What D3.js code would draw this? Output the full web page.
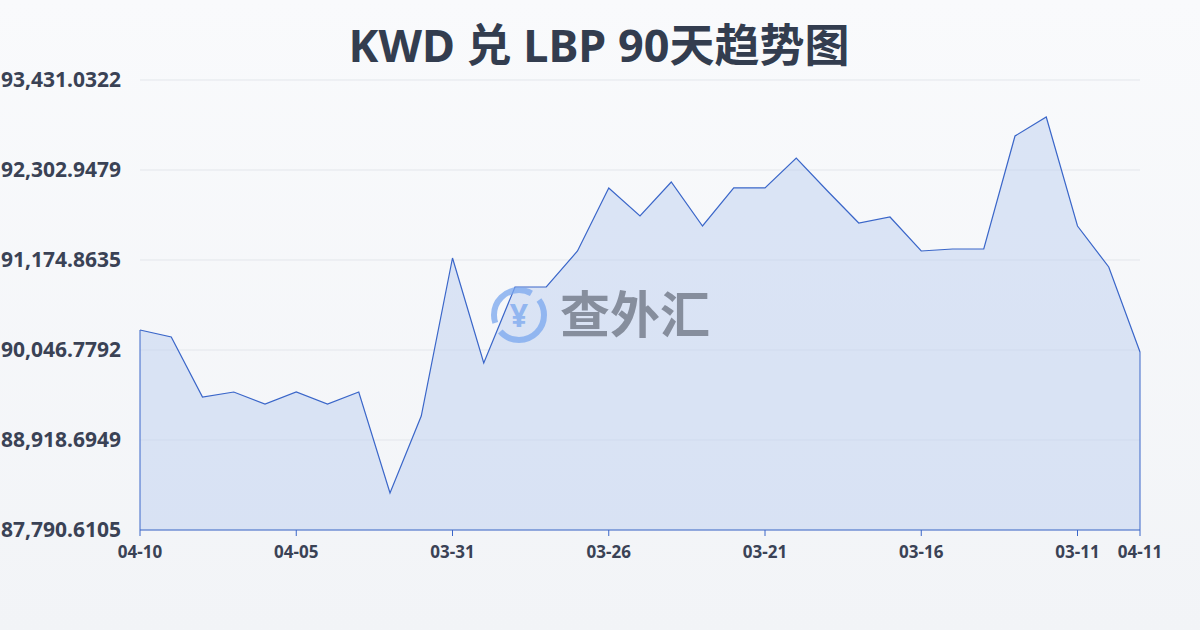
<!DOCTYPE html><html><head><meta charset="utf-8">
<script src="https://cdn.jsdelivr.net/npm/d3@7/dist/d3.min.js"></script>
<style>body{margin:0;width:1200px;height:630px;overflow:hidden;background:linear-gradient(#f9fafc,#f2f4f7);font-family:"Noto Sans","Noto Sans CJK SC",sans-serif}</style>
</head><body><svg id="c" width="1200" height="630"></svg><script>
const dates=["04-10","04-09","04-08","04-07","04-06","04-05","04-04","04-03","04-02","04-01","03-31","03-30","03-29","03-28","03-27","03-26","03-25","03-24","03-23","03-22","03-21","03-20","03-19","03-18","03-17","03-16","03-15","03-14","03-13","03-12","03-11","03-10","04-11"];
const values=[90297.4,90209.7,89457.7,89520.4,89370.0,89520.4,89370.0,89520.4,88254.5,89219.6,91200.0,89883.9,90836.5,90836.5,91287.8,92077.7,91726.4,92152.5,91601.0,92077.7,92077.7,92453.4,92040.0,91638.7,91714.0,91287.8,91312.9,91312.9,92729.1,92967.3,91601.0,91087.2,90021.8];
const yTicks=[87790.6105,88918.6949,90046.7792,91174.8635,92302.9479,93431.0322];
const xLabels=["04-10","04-05","03-31","03-26","03-21","03-16","03-11","04-11"];
const svg=d3.select("#c");
const x=d3.scalePoint().domain(dates).range([140,1140]);
const y=d3.scaleLinear().domain([yTicks[0],yTicks[5]]).range([530,80]);
svg.append("text").attr("x",599).attr("y",62).attr("text-anchor","middle").attr("font-size",45).attr("font-weight","bold").attr("fill","#333d4f").text("KWD 兑 LBP 90天趋势图");
const fmt=d3.format(",.4f");
yTicks.forEach(t=>{svg.append("line").attr("x1",140).attr("x2",1140).attr("y1",y(t)).attr("y2",y(t)).attr("stroke","#e3e6eb");
svg.append("text").attr("x",121).attr("y",y(t)+7).attr("text-anchor","end").attr("font-size",21).attr("font-weight","bold").attr("fill","#3a4255").text(fmt(t));});
const area=d3.area().x((d,i)=>x(dates[i])).y0(530).y1(d=>y(d));
svg.append("path").attr("d",area(values)).attr("fill","rgba(190,208,240,0.5)");
svg.append("path").attr("d",d3.line().x((d,i)=>x(dates[i])).y(d=>y(d))(values)).attr("fill","none").attr("stroke","#3a66c9").attr("stroke-width",1.2);
svg.append("line").attr("x1",140).attr("x2",140).attr("y1",y(values[0])).attr("y2",530).attr("stroke","#3a66c9");
svg.append("line").attr("x1",1140).attr("x2",1140).attr("y1",y(values[32])).attr("y2",530).attr("stroke","#3a66c9");
svg.append("line").attr("x1",140).attr("x2",1140).attr("y1",530).attr("y2",530).attr("stroke","#3a66c9");
xLabels.forEach(l=>{const xx=x(l);svg.append("line").attr("x1",xx).attr("x2",xx).attr("y1",530).attr("y2",536).attr("stroke","#3a66c9");
svg.append("text").attr("x",xx).attr("y",558).attr("text-anchor","middle").attr("font-size",17).attr("font-weight","bold").attr("fill","#3a4255").text(l);});
const g=svg.append("g").attr("opacity",0.75);
g.append("circle").attr("cx",519).attr("cy",315).attr("r",25).attr("fill","none").attr("stroke","#7aa7ef").attr("stroke-width",6).attr("stroke-dasharray","60 10");
g.append("text").attr("x",519).attr("y",327).attr("text-anchor","middle").attr("font-size",32).attr("font-weight","bold").attr("fill","#7aa7ef").text("¥");
g.append("text").attr("x",560).attr("y",333).attr("font-size",50).attr("font-weight","bold").attr("fill","#6b7280").attr("font-family","Noto Sans CJK SC").text("查外汇");
</script></body></html>
